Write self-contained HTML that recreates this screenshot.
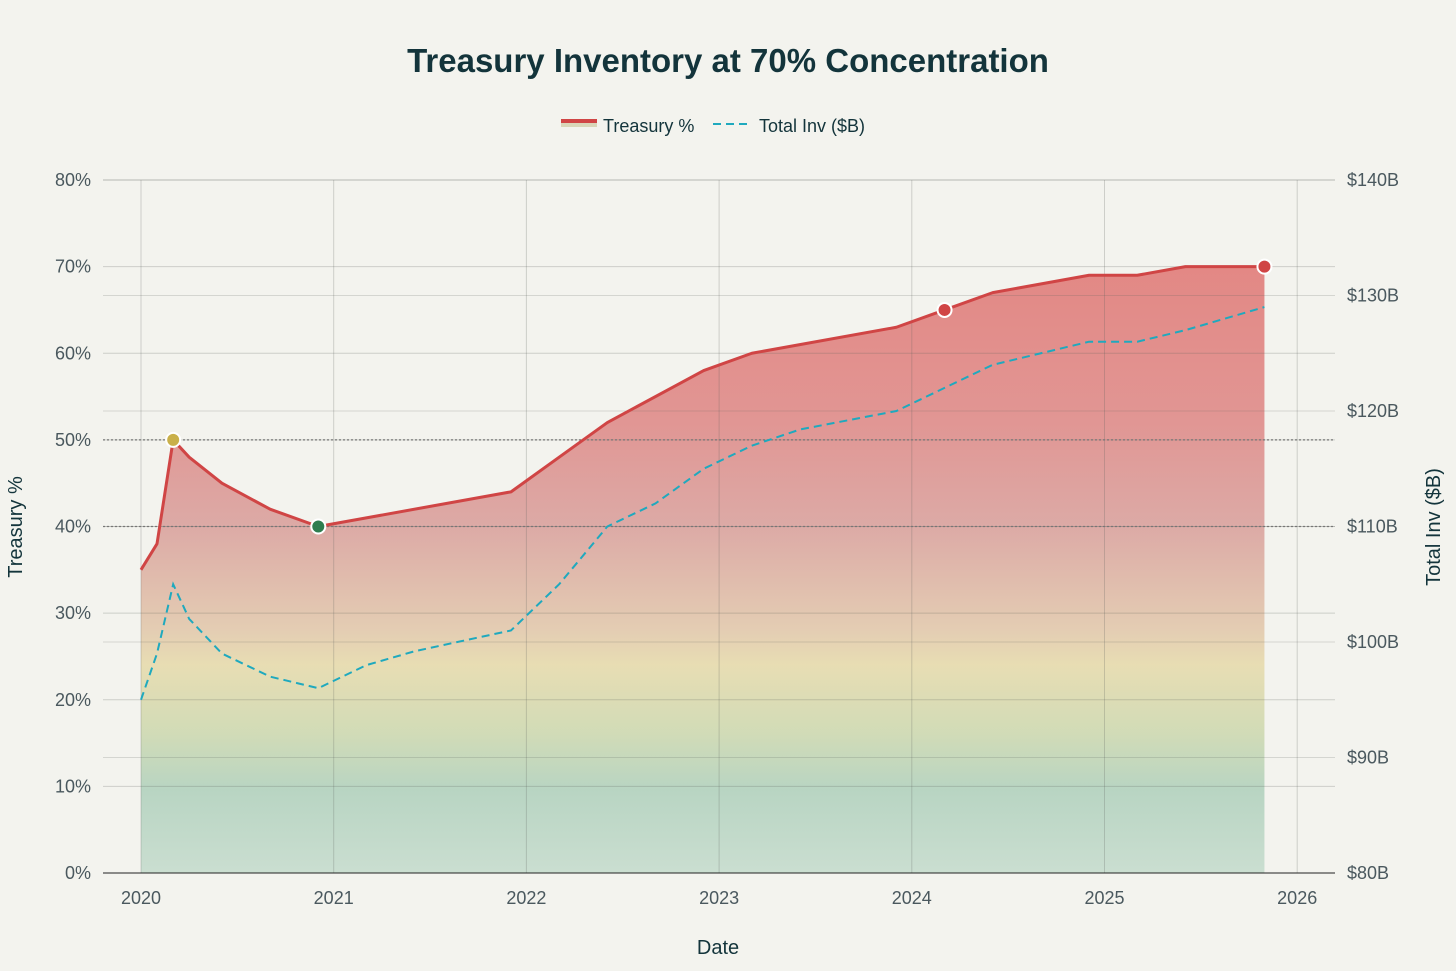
<!DOCTYPE html>
<html><head><meta charset="utf-8"><style>
html,body{margin:0;padding:0;background:#f3f3ee;}
svg{display:block;font-family:"Liberation Sans",sans-serif;}
</style></head><body>
<svg id="chart" width="1456" height="971" viewBox="0 0 1456 971">
<defs>
<linearGradient id="fillg" gradientUnits="userSpaceOnUse" x1="0" y1="180" x2="0" y2="873">
<stop offset="0" stop-color="#e37a76"/>
<stop offset="0.35" stop-color="#e0918f"/>
<stop offset="0.5" stop-color="#dba6a2"/>
<stop offset="0.65" stop-color="#e3cbb0"/>
<stop offset="0.7" stop-color="#e7dcb0"/>
<stop offset="0.8" stop-color="#cfdab4"/>
<stop offset="0.88" stop-color="#b5d3c0"/>
<stop offset="1" stop-color="#c8ddcf"/>
</linearGradient>
</defs>
<rect width="1456" height="971" fill="#f3f3ee"/>
<text x="728" y="72" text-anchor="middle" font-size="33" font-weight="bold" fill="#13343b">Treasury Inventory at 70% Concentration</text>
<g>
<rect x="561" y="119" width="36" height="4" fill="#d04545"/>
<rect x="561" y="123" width="36" height="4" fill="#d9d6b8"/>
<text x="603" y="132" font-size="18" fill="#13343b">Treasury %</text>
<line x1="713" y1="124" x2="749" y2="124" stroke="#1fa9be" stroke-width="2" stroke-dasharray="8,5"/>
<text x="759" y="132" font-size="18" fill="#13343b">Total Inv ($B)</text>
</g>
<g id="marks"></g>
<g id="grid"></g>
<g id="marks2"></g>
<g id="axes"></g>
<text x="718" y="954" text-anchor="middle" font-size="20" fill="#13343b">Date</text>
<text transform="translate(22,527) rotate(-90)" text-anchor="middle" font-size="20" fill="#13343b">Treasury %</text>
<text transform="translate(1440,527) rotate(-90)" text-anchor="middle" font-size="20" fill="#13343b">Total Inv ($B)</text>
</svg>
<script>
const dates=[2020.0,2020.083,2020.167,2020.25,2020.42,2020.67,2020.92,2021.92,2022.17,2022.42,2022.92,2023.17,2023.92,2024.17,2024.42,2024.92,2025.17,2025.42,2025.83];
const treasuryPct=[35,38,50,48,45,42,40,44,48,52,58,60,63,65,67,69,69,70,70];
const invDates=[2020.0,2020.083,2020.167,2020.25,2020.42,2020.67,2020.92,2021.17,2021.42,2021.92,2022.17,2022.42,2022.67,2022.92,2023.17,2023.42,2023.92,2024.17,2024.42,2024.67,2024.92,2025.17,2025.42,2025.83];
const totalInv=[95,99,105,102,99,97,96,98,99.2,101,105,110,112,115,117,118.4,120,122,124,125,126,126,127,129];
const xTicks=[2020,2021,2022,2023,2024,2025,2026];
const yTicks=[0,10,20,30,40,50,60,70,80];
const y2Ticks=[80,90,100,110,120,130,140];
const markerDates=[2020.167,2020.92,2024.17,2025.83];
const markerVals=[50,40,65,70];
const markerColors=["#c9b04a","#2e7d4f","#d04545","#d04545"];
const refLines=[50,40];

const X0=103,X1=1335,TOP=180,BOT=873;
const x=d=>141+(d-2020)*192.7;
const y=v=>BOT-(v/80)*(BOT-TOP);
const y2=v=>BOT-((v-80)/60)*(BOT-TOP);
const NS="http://www.w3.org/2000/svg";
function mk(tag,attrs,parent){const e=document.createElementNS(NS,tag);for(const k in attrs)e.setAttribute(k,attrs[k]);parent.appendChild(e);return e;}
const grid=document.getElementById('grid'),marks=document.getElementById('marks'),marks2=document.getElementById('marks2'),axes=document.getElementById('axes');

xTicks.forEach(t=>{
 const l=mk('line',{x1:x(t),x2:x(t),y1:TOP,y2:BOT,stroke:'rgba(90,95,90,0.25)','stroke-width':1},grid);
 
 
 const tx=mk('text',{x:x(t),y:BOT+31,'text-anchor':'middle','font-size':18,fill:'#4a585e'},axes);
 tx.textContent=t;
 
 
});
yTicks.forEach(t=>{
 const l=mk('line',{x1:X0,x2:X1,y1:y(t),y2:y(t),stroke:'rgba(90,95,90,0.25)','stroke-width':1},grid);
 
 
 const tx=mk('text',{x:91,y:y(t)+6,'text-anchor':'end','font-size':18,fill:'#4a585e'},axes);
 tx.textContent=t+'%';
 
 
});
y2Ticks.forEach(t=>{
 const l=mk('line',{x1:X0,x2:X1,y1:y2(t),y2:y2(t),stroke:'rgba(90,95,90,0.2)','stroke-width':1},grid);
 
 
 const tx=mk('text',{x:1347,y:y2(t)+6,'font-size':18,fill:'#4a585e'},axes);
 tx.textContent='$'+t+'B';
 
 
});
const axl=mk('line',{x1:X0,x2:X1,y1:BOT,y2:BOT,stroke:'#222','stroke-width':1},axes);



let pts=dates.map((d,i)=>x(d)+','+y(treasuryPct[i]));
const area=mk('path',{d:'M'+x(dates[0])+','+BOT+' L'+pts.join(' L')+' L'+x(dates[dates.length-1])+','+BOT+' Z',fill:'url(#fillg)','fill-opacity':0.95},marks);



refLines.forEach(r=>{
 const l=mk('line',{x1:X0,x2:X1,y1:y(r),y2:y(r),stroke:'#777','stroke-width':1.2,'stroke-dasharray':'2,2'},marks2);
 
 
});

const line=mk('polyline',{points:pts.join(' '),fill:'none',stroke:'#d04545','stroke-width':3,'stroke-linejoin':'round'},marks2);



const inv=mk('polyline',{points:invDates.map((d,i)=>x(d)+','+y2(totalInv[i])).join(' '),fill:'none',stroke:'#1fa9be','stroke-width':2,'stroke-dasharray':'8,5'},marks2);



markerDates.forEach((d,i)=>{
 const c=mk('circle',{cx:x(d),cy:y(markerVals[i]),r:7,fill:markerColors[i],stroke:'#fff','stroke-width':2},marks2);
 
 
});
</script>
</body></html>
